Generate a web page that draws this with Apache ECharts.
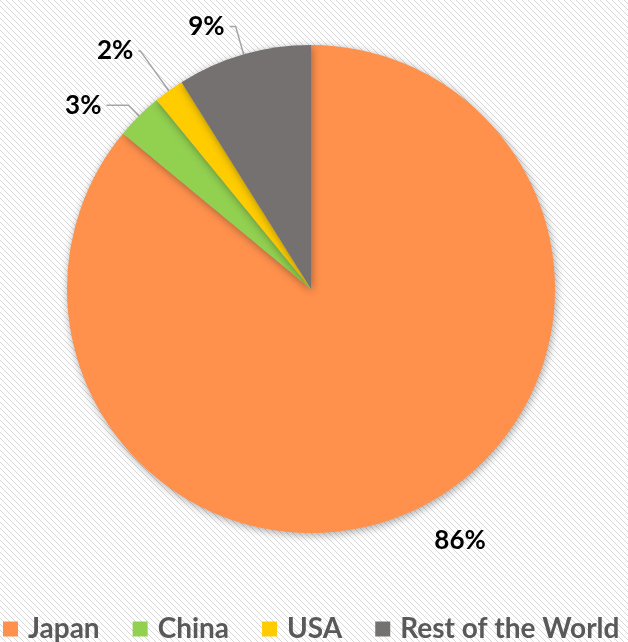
<!DOCTYPE html>
<html>
<head>
<meta charset="UTF-8">
<title>Share by country</title>
<script src="https://cdn.jsdelivr.net/npm/echarts@6/dist/echarts.min.js"></script>
<style>
  html, body { margin: 0; padding: 0; background: #fff; }
  #chart { width: 628px; height: 642px; }
</style>
</head>
<body>
<div id="chart"></div>
<script>
// data (share in %)
var countries = ['Japan', 'China', 'USA', 'Rest of the World'];
var shares = [86.0, 3.1, 2.0, 8.9];
var colors = ['#FF914D', '#92D050', '#FFCC00', '#767171'];

// leader line lengths per slice [length, length2]
var lineLens = [[34, 0], [15, 22], [49, 2], [29, 6]];

// diagonal hatch background
var tile = document.createElement('canvas');
tile.width = 6;
tile.height = 6;
var tctx = tile.getContext('2d');
tctx.fillStyle = '#ffffff';
tctx.fillRect(0, 0, 6, 6);
tctx.fillStyle = '#d8d8d8';
for (var i = 0; i < 6; i++) {
  tctx.fillRect(i, i, 1, 1);
}

var chart = echarts.init(document.getElementById('chart'));

var pieData = countries.map(function (name, i) {
  return {
    name: name,
    value: shares[i],
    itemStyle: { color: colors[i] },
    labelLine: { show: i !== 0, length: lineLens[i][0], length2: lineLens[i][1] },
    label: { padding: i === 0 ? 0 : [0, 0, 18, 0] }
  };
});

var option = {
  backgroundColor: { image: tile, repeat: 'repeat' },
  animation: false,
  legend: {
    data: countries,
    left: 3,
    top: 615,
    width: 900,
    padding: 0,
    icon: 'rect',
    itemWidth: 15,
    itemHeight: 15,
    itemGap: 33,
    textStyle: {
      color: '#595959',
      fontFamily: 'Lato',
      fontWeight: 'bold',
      fontSize: 28,
      padding: [0, 0, 0, 5]
    }
  },
  series: [{
    type: 'pie',
    center: [311, 289],
    radius: 244,
    startAngle: 90,
    clockwise: true,
    avoidLabelOverlap: false,
    data: pieData,
    itemStyle: {
      borderWidth: 0,
      shadowBlur: 8,
      shadowOffsetX: 1,
      shadowOffsetY: 2,
      shadowColor: 'rgba(0,0,0,0.35)'
    },
    label: {
      show: true,
      position: 'outside',
      color: '#000',
      fontFamily: 'Lato',
      fontWeight: 'bold',
      fontSize: 26,
      formatter: function (p) { return Math.round(p.value) + '%'; }
    },
    labelLine: {
      lineStyle: { color: '#a6a6a6', width: 1.5 }
    },
    emphasis: { disabled: true }
  }]
};

chart.setOption(option);
</script>
</body>
</html>
